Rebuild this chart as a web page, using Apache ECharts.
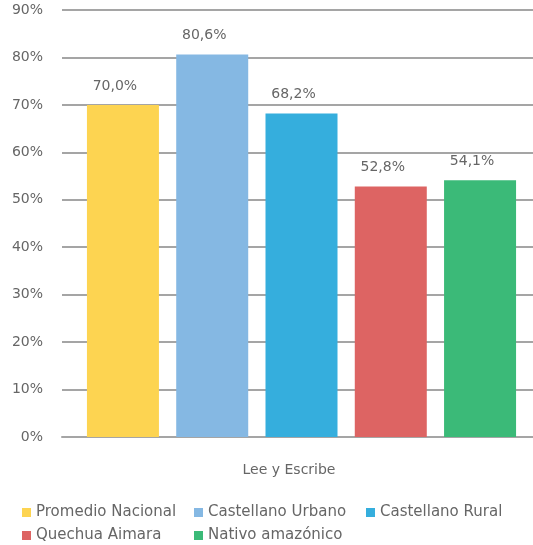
<!DOCTYPE html>
<html><head><meta charset="utf-8">
<script src="https://cdn.jsdelivr.net/npm/echarts@6/dist/echarts.min.js"></script>
<style>html,body{margin:0;padding:0;background:#fff}#c{width:533px;height:545px}</style>
</head><body><div id="c"></div>
<script>
const categories = ['Lee y Escribe'];
const seriesNames = ['Promedio Nacional','Castellano Urbano','Castellano Rural','Quechua Aimara','Nativo amazónico'];
const seriesValues = [70.0, 80.6, 68.2, 52.8, 54.1];
const seriesColors = ['#FDD451','#85B8E3','#35AEDD','#DD6463','#3BBA78'];
const yTicks = [0,10,20,30,40,50,60,70,80,90];

const FONT = 'DejaVu Sans';
const TXT = '#666666';
const legendPos = [[22,505],[194,505],[366,505],[22,528],[194,528]];

const chart = echarts.init(document.getElementById('c'));
chart.setOption({
  animation:false,
  textStyle:{fontFamily:FONT},
  grid:{left:62,width:479,top:10,bottom:108,outerBoundsMode:'none',containLabel:false},
  xAxis:{type:'category',data:categories,
    axisLine:{lineStyle:{color:'#a5a5a5',width:2}},
    axisTick:{show:false},
    axisLabel:{color:TXT,fontSize:14,fontFamily:FONT,margin:26,padding:[0,25,0,0]}},
  yAxis:{type:'value',min:yTicks[0],max:yTicks[yTicks.length-1],interval:10,
    axisLine:{show:false},axisTick:{show:false},
    axisLabel:{color:TXT,fontSize:14,fontFamily:FONT,margin:19,formatter:v=>v+'%'},
    splitLine:{lineStyle:{color:'#a5a5a5',width:2}}},
  legend: seriesNames.map((n,i)=>({data:[n],left:legendPos[i][0],top:legendPos[i][1],
    icon:'rect',itemWidth:9,itemHeight:9,itemGap:5,padding:0,
    textStyle:{color:TXT,fontSize:15,fontFamily:FONT}})),
  series: seriesNames.map((n,i)=>({name:n,type:'bar',data:[seriesValues[i]],
    itemStyle:{color:seriesColors[i]},
    barWidth:72,barGap:'24%',
    label:{show:true,position:'top',distance:12,offset:[-8,0],color:TXT,fontSize:14,fontFamily:FONT,
      formatter:p=>p.value.toFixed(1).replace('.',',')+'%'}}))
});
</script></body></html>
